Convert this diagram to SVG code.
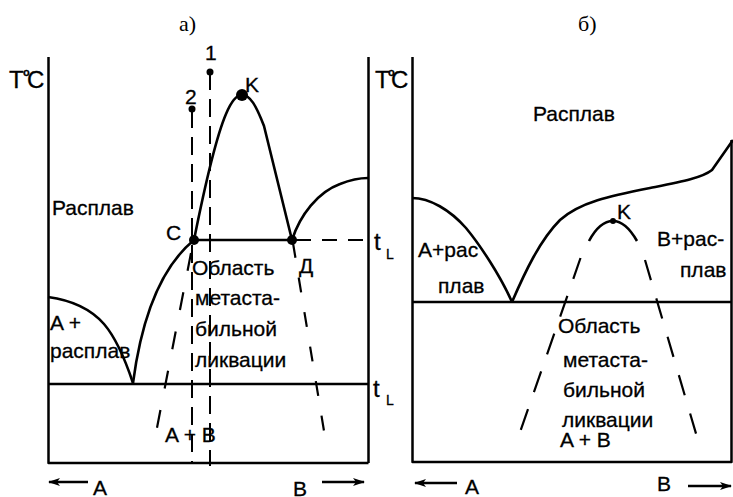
<svg xmlns="http://www.w3.org/2000/svg" width="733" height="497" viewBox="0 0 733 497">
<style>
.ln{fill:none;stroke:#000;stroke-width:2.5;stroke-linejoin:round;stroke-linecap:butt}
.cv{fill:none;stroke:#000;stroke-width:2.6;stroke-linejoin:round}
.dv{fill:none;stroke:#000;stroke-width:2;stroke-dasharray:18 9}
.db{fill:none;stroke:#000;stroke-width:2.2}
.t{font-family:"Liberation Sans",Arial,sans-serif;font-size:21px;fill:#000;stroke:#000;stroke-width:0.3}
.ts{font-family:"Liberation Serif","Times New Roman",serif;font-size:22px;fill:#000}
.big{font-size:24px}
.sub{font-size:14px}
.deg{font-size:11px;font-weight:bold}
.dot{fill:#000}
</style>
<defs>
<marker id="ah" viewBox="0 0 12 8" refX="11" refY="4" markerWidth="12" markerHeight="8" markerUnits="userSpaceOnUse" orient="auto">
<path d="M0,0 L12,4 L0,8 L3,4 z" fill="#000"/>
</marker>
</defs>

<!-- Panel a -->
<g id="panel-a">
<text class="ts" x="179" y="31">а)</text>
<g id="axes-a">
<path class="ln" d="M48.5,57 V463 H368.5 M368.5,57 V463"/>
<path class="ln" d="M48.5,384 H368.5"/>
<path class="ln" d="M194,240 H292"/>
<path class="db" d="M296,240 H368" stroke-dasharray="15 11"/>
</g>
<g id="curves-a">
<path class="cv" d="M48,297 C70,300 90,308 104,324 C116,338 126,362 133,383"/>
<path class="cv" d="M133,383 C140,330 155,272 194,240"/>
<path class="cv" d="M194,240 C203,195 214,142 226,114 C231,102 236,95 242,95 C250,95 256,105 264,126 L292,240"/>
<path class="cv" d="M292,240 C300,215 318,192 340,184 C350,180 360,178 368,178"/>
<path class="db" d="M191,253 L155,438" stroke-dasharray="18 22"/>
<path class="db" d="M293,243 L325,437" stroke-dasharray="15 20"/>
</g>
<g id="verticals-a">
<path class="dv" d="M192,110 V463"/>
<path class="dv" d="M210,72 V466"/>
</g>
<g id="points-a">
<circle class="dot" cx="194" cy="240" r="5"/>
<circle class="dot" cx="292" cy="240" r="5"/>
<circle class="dot" cx="242" cy="95" r="6"/>
<circle class="dot" cx="210" cy="72" r="3.5"/>
<circle class="dot" cx="192" cy="109" r="3.5"/>
</g>
<g id="labels-a">
<text class="t big" x="9" y="88">T</text>
<text class="t deg" x="23" y="76">o</text>
<text class="t big" x="27" y="88">C</text>
<text class="t" x="205" y="60">1</text>
<text class="t" x="185" y="104">2</text>
<text class="t" x="245" y="92">K</text>
<text class="t" x="52" y="215">Расплав</text>
<text class="t" x="166" y="240">С</text>
<text class="t" x="299" y="273">Д</text>
<text class="t" x="192" y="275">Область</text>
<text class="t" x="195" y="305">метаста-</text>
<text class="t" x="195" y="336">бильной</text>
<text class="t" x="195" y="367">ликвации</text>
<text class="t" x="50" y="330">A +</text>
<text class="t" x="50" y="358">расплав</text>
<text class="t" x="165" y="442">A + B</text>
<text class="t big" x="374" y="250">t</text>
<text class="t sub" x="386" y="259">L</text>
<text class="t big" x="373" y="397">t</text>
<text class="t sub" x="386" y="405">L</text>
<text class="t" x="93" y="495">A</text>
<text class="t" x="293" y="496">B</text>
</g>
<g id="arrows-a">
<line class="ln" x1="88" y1="482" x2="49" y2="482" marker-end="url(#ah)"/>
<line class="ln" x1="322" y1="482" x2="364" y2="482" marker-end="url(#ah)"/>
</g>
</g>

<!-- Panel b -->
<g id="panel-b">
<text class="ts" x="578" y="31">б)</text>
<g id="axes-b">
<path class="ln" d="M412.5,57 V462 H731.5 V140"/>
<path class="ln" d="M412.5,302 H731.5"/>
</g>
<g id="curves-b">
<path class="cv" d="M412,198 C430,198 450,210 466,228 C480,245 500,275 512,302"/>
<path class="cv" d="M512,302 C525,272 540,240 560,220 C580,202 610,196 650,188 C680,182 702,178 712,170 L733,140"/>
<path class="cv" d="M589,241 C597,226 606,221 613,221 C620,221 629,227 637,241"/>
<path class="db" d="M580.5,258 L518,438" stroke-dasharray="22 18"/>
<path class="db" d="M645,260 L697,437" stroke-dasharray="21 19"/>
<circle class="dot" cx="613" cy="221" r="3"/>
</g>
<g id="labels-b">
<text class="t big" x="375" y="88">T</text>
<text class="t deg" x="388" y="76">o</text>
<text class="t big" x="391" y="88">C</text>
<text class="t" x="533" y="121">Расплав</text>
<text class="t" x="617" y="219">K</text>
<text class="t" x="418" y="257">A+рас</text>
<text class="t" x="438" y="293">плав</text>
<text class="t" x="657" y="246">B+рас-</text>
<text class="t" x="680" y="277">плав</text>
<text class="t" x="558" y="333">Область</text>
<text class="t" x="563" y="367">метаста-</text>
<text class="t" x="563" y="397">бильной</text>
<text class="t" x="562" y="427">ликвации</text>
<text class="t" x="560" y="447">A + B</text>
<text class="t" x="465" y="494">A</text>
<text class="t" x="657" y="491">B</text>
</g>
<g id="arrows-b">
<line class="ln" x1="457" y1="483" x2="415" y2="483" marker-end="url(#ah)"/>
<line class="ln" x1="688" y1="486" x2="731" y2="486" marker-end="url(#ah)"/>
</g>
</g>
</svg>
